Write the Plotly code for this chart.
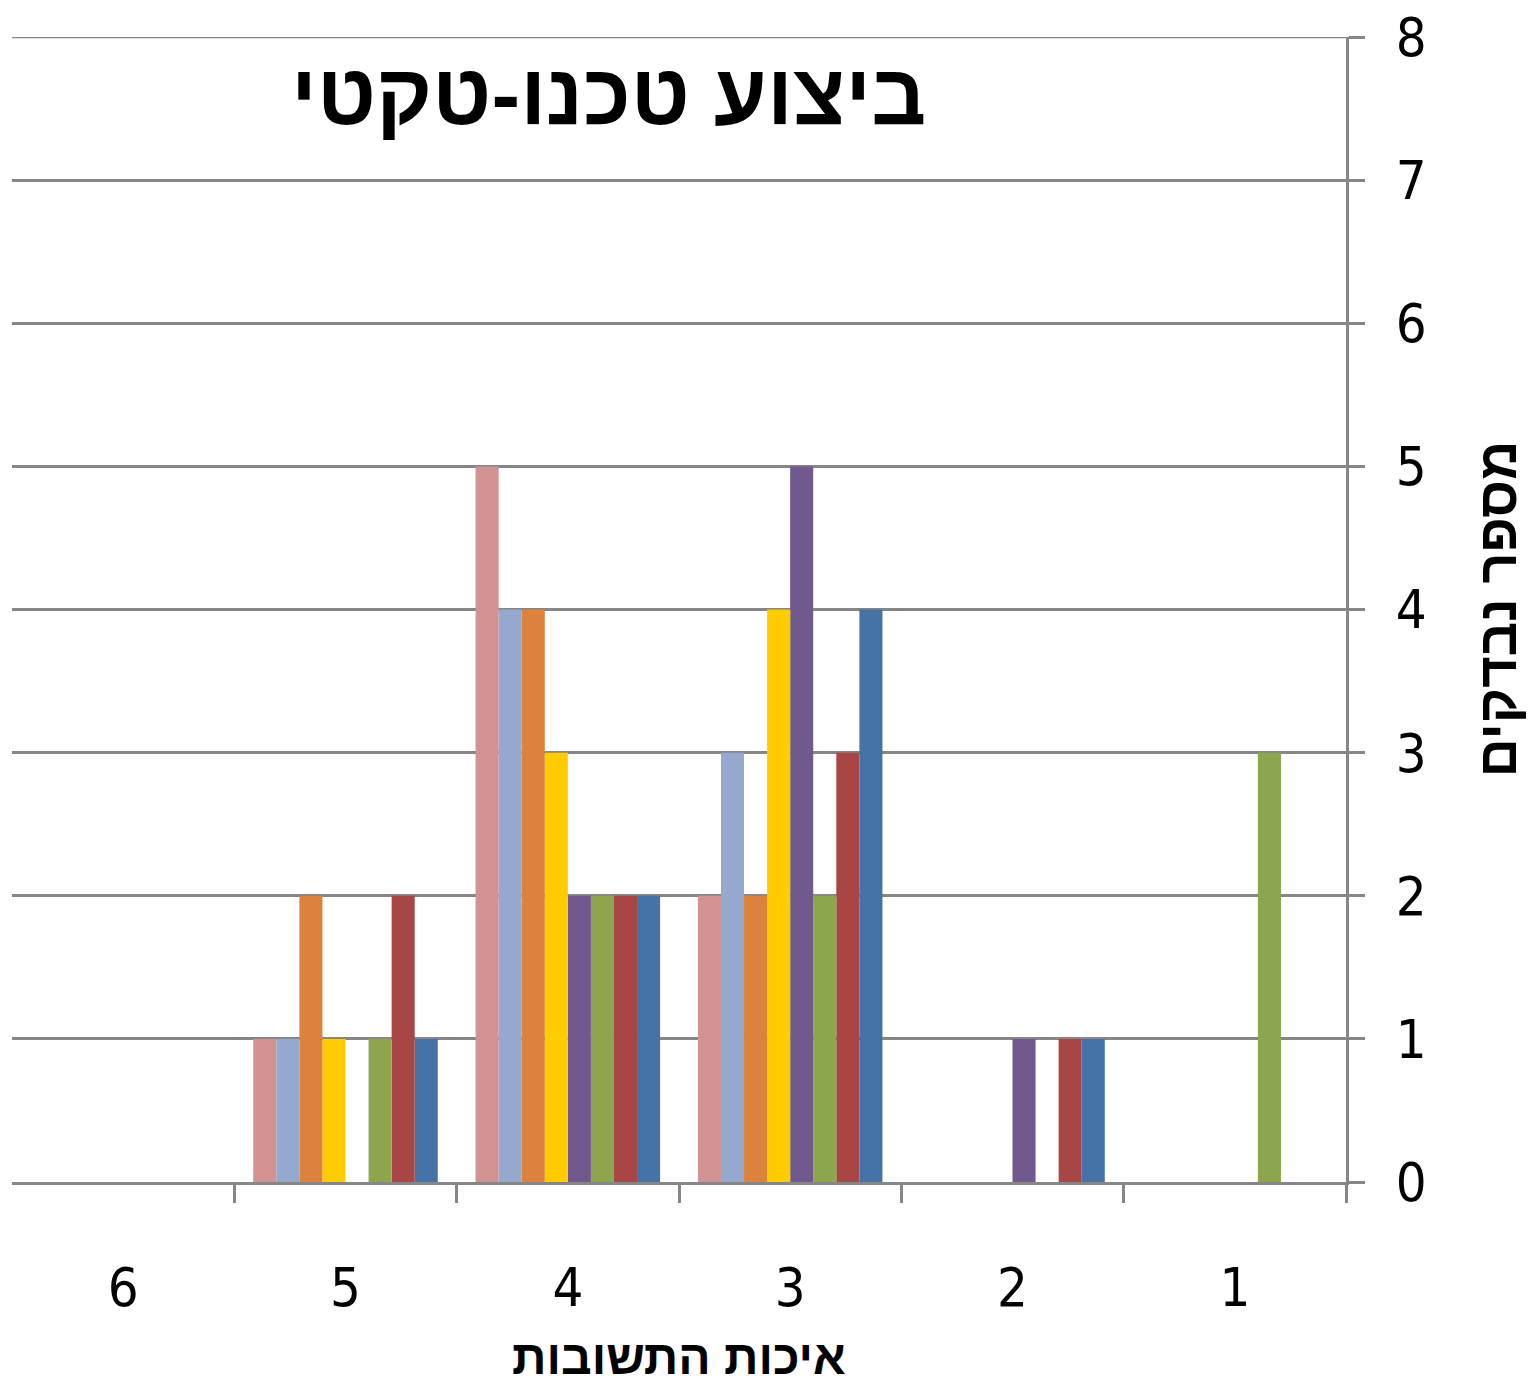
import plotly.graph_objects as go

# Response-quality categories (1 = lowest ... 6 = highest)
categories = ["1", "2", "3", "4", "5", "6"]

# Number of subjects per category for each of the eight series
series_pink = [0, 0, 2, 5, 1, 0]
series_lightblue = [0, 0, 3, 4, 1, 0]
series_orange = [0, 0, 2, 4, 2, 0]
series_yellow = [0, 0, 4, 3, 1, 0]
series_purple = [0, 1, 5, 2, 0, 0]
series_green = [3, 0, 2, 2, 1, 0]
series_red = [0, 1, 3, 2, 2, 0]
series_blue = [0, 1, 4, 2, 1, 0]

y_ticks = [0, 1, 2, 3, 4, 5, 6, 7, 8]

title_text = "ביצוע טכנו-טקטי"
x_title = "איכות התשובות"
y_title = "מספר נבדקים"

series = [
    ("1", series_pink, "#D19292"),
    ("2", series_lightblue, "#95A9CF"),
    ("3", series_orange, "#DD823C"),
    ("4", series_yellow, "#FFCC00"),
    ("5", series_purple, "#71598E"),
    ("6", series_green, "#8BA64C"),
    ("7", series_red, "#A84645"),
    ("8", series_blue, "#4573A7"),
]

GRAY = "#868686"
NUM_FONT = "DejaVu Sans Condensed, Liberation Sans Narrow, Arial, sans-serif"
HEB_FONT = "Liberation Sans, Arial, DejaVu Sans, sans-serif"

fig = go.Figure()
# x axis runs right-to-left, so add traces in reverse to keep the first series leftmost
for name, vals, color in reversed(series):
    fig.add_trace(go.Bar(
        x=categories, y=vals, name=name,
        marker=dict(color=color, line=dict(width=0)),
        showlegend=False,
    ))

# top gridline at the maximum of the value axis
fig.add_shape(type="line", xref="paper", yref="y", x0=0, x1=1, y0=8, y1=8,
              line=dict(color=GRAY, width=2.5), layer="below")

fig.update_layout(
    width=1528, height=1383,
    margin=dict(l=12, r=182, t=37, b=201),
    paper_bgcolor="white", plot_bgcolor="white",
    barmode="group", bargap=0.17, bargroupgap=0,
    xaxis=dict(
        type="category", autorange="reversed", automargin=False,
        tickson="boundaries", ticks="outside", ticklen=18, tickwidth=3,
        tickcolor=GRAY, showline=True, linecolor=GRAY, linewidth=3,
        showgrid=False, zeroline=False, tickangle=0,
        tickfont=dict(family=NUM_FONT, size=54, color="black"),
        ticklabelstandoff=56,
    ),
    yaxis=dict(
        side="right", range=[0, 8], tickvals=y_ticks, automargin=False,
        ticks="outside", ticklen=16, tickwidth=3, tickcolor=GRAY,
        showline=True, linecolor=GRAY, linewidth=3,
        showgrid=True, gridcolor=GRAY, gridwidth=2.5, zeroline=False,
        tickfont=dict(family=NUM_FONT, size=54, color="black"),
        ticklabelstandoff=20,
    ),
    annotations=[
        dict(text=f"<b>{title_text}</b>", xref="paper", yref="paper",
             x=0.447, y=0.95, xanchor="center", yanchor="middle",
             showarrow=False, font=dict(family=HEB_FONT, size=86, color="black")),
        dict(text=f"<b>{x_title}</b>", xref="paper", yref="paper",
             x=0.5, y=-0.153, xanchor="center", yanchor="middle",
             showarrow=False, font=dict(family=HEB_FONT, size=48, color="black")),
        dict(text=f"<b>{y_title}</b>", xref="paper", yref="paper",
             x=1.113, y=0.5, xanchor="center", yanchor="middle", textangle=-90,
             showarrow=False, font=dict(family=HEB_FONT, size=54, color="black")),
    ],
)

fig.write_html("out.html")
